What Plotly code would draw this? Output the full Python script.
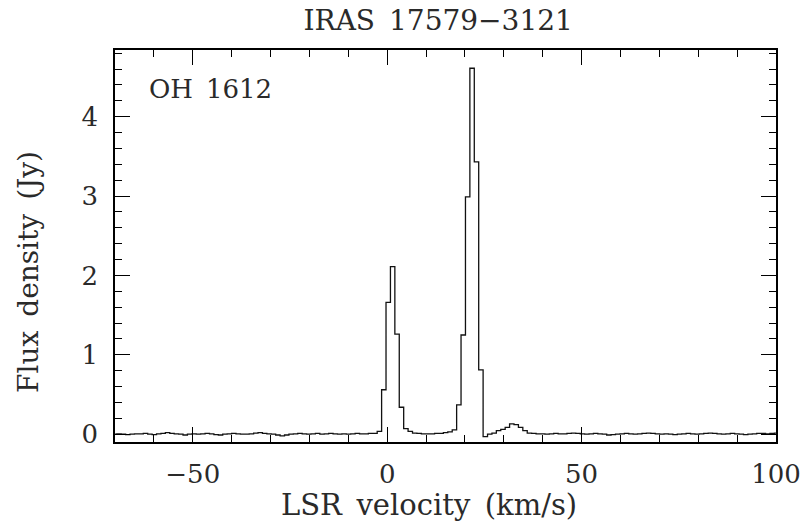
import numpy as np
import plotly.graph_objects as go

# Spectrum: channel grid (km/s) and flux density (Jy)
v_first = -70.1
channel_width = 1.135
baseline_left = [0.00, 0.005, 0.0, -0.005, 0.0, 0.005, 0.005, 0.01, 0.0, -0.005,
                 0.005, 0.01, 0.02, 0.01, 0.005, 0.0, -0.01, 0.0, 0.005, 0.0,
                 0.005, 0.01, 0.005, -0.005, -0.01, 0.0, 0.005, 0.01, 0.005, 0.0,
                 0.0, 0.005, 0.015, 0.02, 0.01, 0.005, 0.0, -0.01, -0.02, -0.01,
                 0.0, 0.005, 0.01, 0.005, 0.0, 0.005, 0.01, 0.0, 0.005, 0.01,
                 0.005, 0.0, 0.005, 0.0, 0.005, 0.01, 0.005, 0.005, 0.01, 0.01]
emission = [0.035, 0.56, 1.66, 2.11, 1.26, 0.34, 0.07, 0.035, 0.015, 0.01,
            0.005, 0.005, 0.005, 0.01, 0.01, 0.02, 0.03, 0.055, 0.37, 1.25,
            2.99, 4.61, 3.43, 0.81, -0.03, 0.0, 0.015, 0.045, 0.06, 0.085,
            0.13, 0.12, 0.085, 0.045, 0.015]
baseline_right = [0.01, 0.005, 0.005, 0.0, 0.005, 0.01, 0.005, 0.005, 0.01, 0.015,
                  0.01, 0.005, 0.0, 0.005, 0.01, 0.005, 0.0, -0.01, -0.005, 0.0,
                  0.005, 0.01, 0.005, 0.0, 0.005, 0.01, 0.015, 0.01, 0.005, 0.0,
                  0.005, 0.0, -0.005, 0.0, 0.005, 0.01, 0.005, 0.0, 0.005, 0.01,
                  0.015, 0.01, 0.005, 0.0, 0.005, 0.01, 0.005, 0.0, -0.005, 0.0,
                  0.005, 0.01, 0.01, 0.005, 0.01, 0.015]
flux = baseline_left + emission + baseline_right
velocity = v_first + channel_width * np.arange(len(flux))

x_ticks = [-50, 0, 50, 100]
x_tick_labels = ["\u221250", "0", "50", "100"]
y_ticks = [0, 1, 2, 3, 4]
y_tick_labels = ["0", "1", "2", "3", "4"]

FONT = "DejaVu Serif"
TXT = "#2a2a2a"

fig = go.Figure()
fig.add_trace(go.Scatter(
    x=velocity, y=flux, mode="lines",
    line=dict(shape="hvh", color="#111111", width=1.3),
    showlegend=False, hoverinfo="skip",
))

axis_common = dict(
    showgrid=False, zeroline=False, showline=True, linecolor="black",
    linewidth=1.5, mirror="allticks", ticks="inside", ticklen=15,
    tickwidth=1.2, tickcolor="black",
    tickfont=dict(family=FONT, size=26, color=TXT),
)

fig.update_xaxes(
    range=[-70, 100], tickmode="array", tickvals=x_ticks, ticktext=x_tick_labels,
    minor=dict(dtick=10, tick0=0, ticks="inside", ticklen=7, tickwidth=1.2,
               tickcolor="black"),
    ticklabelstandoff=8,
    **axis_common,
)
fig.update_yaxes(
    range=[-0.098, 4.84], tickmode="array", tickvals=y_ticks, ticktext=y_tick_labels,
    minor=dict(dtick=0.2, tick0=0, ticks="inside", ticklen=7, tickwidth=1.2,
               tickcolor="black"),
    ticklabelstandoff=10,
    **axis_common,
)

# Axis titles placed as paper annotations (pixel-matched to the reference)
PW, PH = 804 - 115 - 28, 529 - 50 - 87
fig.add_annotation(
    text="LSR\u2002velocity\u2002(km/s)", xref="paper", yref="paper",
    x=(429 - 115) / PW, y=(442 - 505) / PH, xanchor="center", yanchor="middle",
    showarrow=False, font=dict(family=FONT, size=29, color=TXT),
)
fig.add_annotation(
    text="Flux\u2002density\u2002(Jy)", xref="paper", yref="paper",
    x=(28 - 115) / PW, y=(442 - 272) / PH, xanchor="center", yanchor="middle",
    textangle=-90, showarrow=False, font=dict(family=FONT, size=28, color=TXT),
)

fig.add_annotation(
    text="OH\u20021612", xref="paper", yref="paper", x=0.048, y=0.9,
    xanchor="left", yanchor="middle", showarrow=False,
    font=dict(family=FONT, size=26, color=TXT),
)

fig.update_layout(
    width=804, height=529,
    margin=dict(l=115, r=28, t=50, b=87, autoexpand=False),
    paper_bgcolor="white", plot_bgcolor="white",
    title=dict(text="IRAS\u200217579\u22123121", x=0.545, xanchor="center",
               y=0.962, yanchor="middle",
               font=dict(family=FONT, size=28, color=TXT)),
)

fig.write_html("out.html")
